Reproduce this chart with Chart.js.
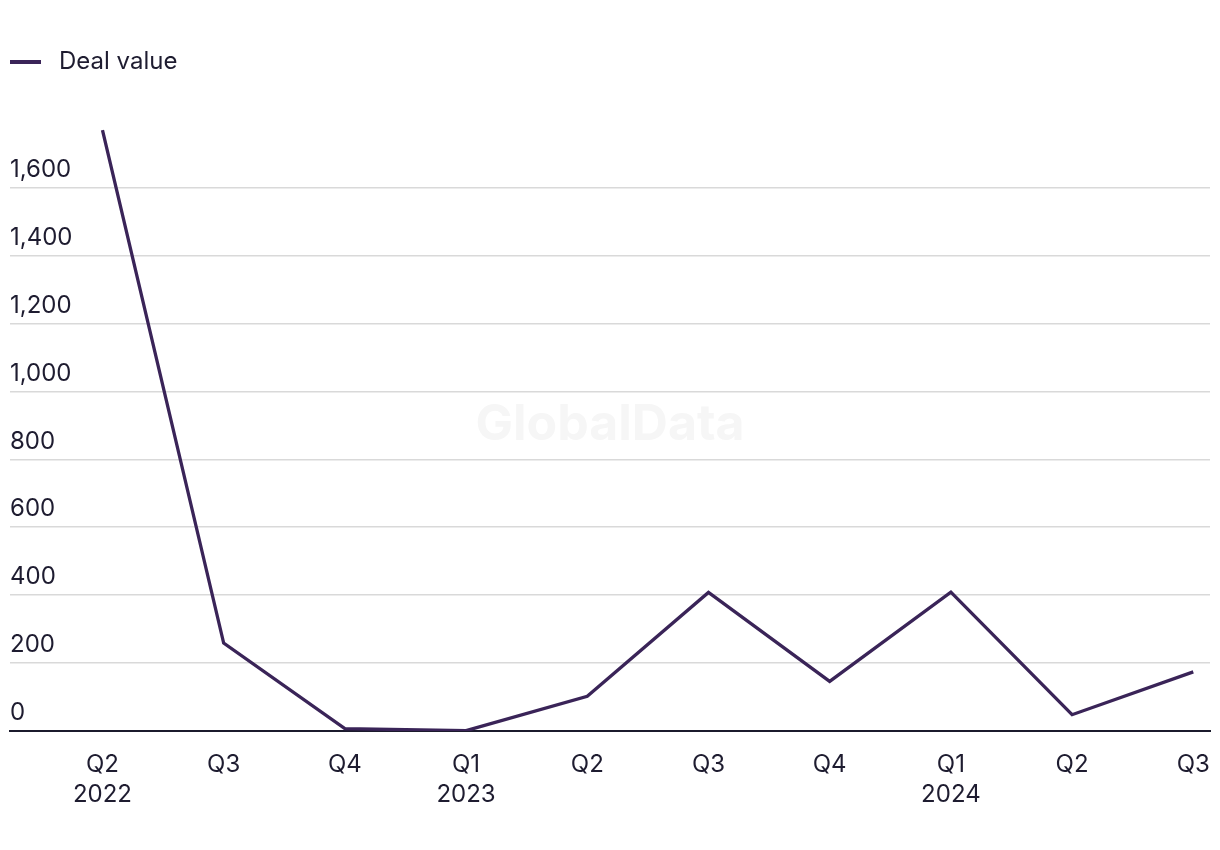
<!DOCTYPE html>
<html>
<head>
<meta charset="utf-8">
<script src="https://cdn.jsdelivr.net/npm/chart.js@4.4.1/dist/chart.umd.min.js"></script>
<style>
  html, body { margin: 0; padding: 0; background: #fff; }
  #wrap { width: 1220px; height: 850px; }
</style>
</head>
<body>
<div id="wrap"><canvas id="dealChart"></canvas></div>
<script>
// quarters on the x axis (second line = year, shown only at Q1 / start)
const quarterLabels = [
  ["Q2", "2022"], ["Q3"], ["Q4"], ["Q1", "2023"], ["Q2"],
  ["Q3"], ["Q4"], ["Q1", "2024"], ["Q2"], ["Q3"]
];
const dealValues = [1769, 259, 7, 1, 102, 408, 146, 409, 48, 174];
const yTicks = [0, 200, 400, 600, 800, 1000, 1200, 1400, 1600];

const lineColor = "#3a2458";
const textColor = "#1e1c30";
const fontFamily = "Inter, 'Liberation Sans', sans-serif";

// legend marker: short line, with some blank space after it
function legendMarker(){
    const c = document.createElement("canvas");
    c.width = 37; c.height = 4;
    const g = c.getContext("2d");
    g.fillStyle = lineColor;
    g.fillRect(0, 0, 31, 4);
    return c;
}

const watermark = {
    id: "watermark",
    beforeDatasetsDraw(chart){
        const a = chart.chartArea, ctx = chart.ctx;
        ctx.save();
        ctx.font = "bold 50px " + fontFamily;
        ctx.fillStyle = "#f6f6f6";
        ctx.textAlign = "center";
        ctx.textBaseline = "middle";
        ctx.fillText("GlobalData", (a.left + a.right) / 2, chart.scales.y.getPixelForValue(900));
        ctx.restore();
    }
};

const ctx = document.getElementById("dealChart").getContext("2d");
const dealChart = new Chart(ctx, {
    type: "line",
    data: {
        datasets: [{
            label: "Deal value",
            data: dealValues.map((v, i) => ({ x: i, y: v })),
            borderColor: lineColor,
            backgroundColor: lineColor,
            borderWidth: 3.3,
            pointRadius: 0,
            tension: 0
        }]
    },
    options: {
        responsive: true,
        maintainAspectRatio: false,
        animation: false,
        layout: { padding: { top: 40, left: 0, right: 10, bottom: 21 } },
        plugins: {
            tooltip: { enabled: false },
            legend: {
                align: "start",
                labels: {
                    usePointStyle: true,
                    pointStyle: legendMarker(),
                    pointStyleWidth: 37,
                    color: textColor,
                    padding: 10,
                    font: { family: fontFamily, size: 24 }
                }
            }
        },
        scales: {
            x: {
                type: "linear",
                min: -0.763,
                max: 9.138,
                afterBuildTicks: s => { s.ticks = quarterLabels.map((_, i) => ({ value: i })); },
                afterFit: s => { s.paddingLeft = 0; s.paddingRight = 0; },
                ticks: {
                    callback: v => quarterLabels[v],
                    color: textColor,
                    padding: 19,
                    maxRotation: 0,
                    autoSkip: false,
                    font: { family: fontFamily, size: 24, lineHeight: 1.25 }
                },
                grid: { display: false, drawTicks: false },
                border: { display: true, color: "#1b1a2c", width: 2 }
            },
            y: {
                min: 0,
                max: 1905,
                afterBuildTicks: s => { s.ticks = yTicks.map(v => ({ value: v })); },
                afterFit: s => { s.width = 10; },
                ticks: {
                    mirror: true,
                    padding: 0,
                    labelOffset: -18,
                    color: textColor,
                    font: { family: fontFamily, size: 24 },
                    callback: v => v.toLocaleString("en-US")
                },
                grid: { color: "#d9d9d9", lineWidth: 1.5, drawTicks: false },
                border: { display: false }
            }
        }
    },
    plugins: [watermark]
});
</script>
</body>
</html>
